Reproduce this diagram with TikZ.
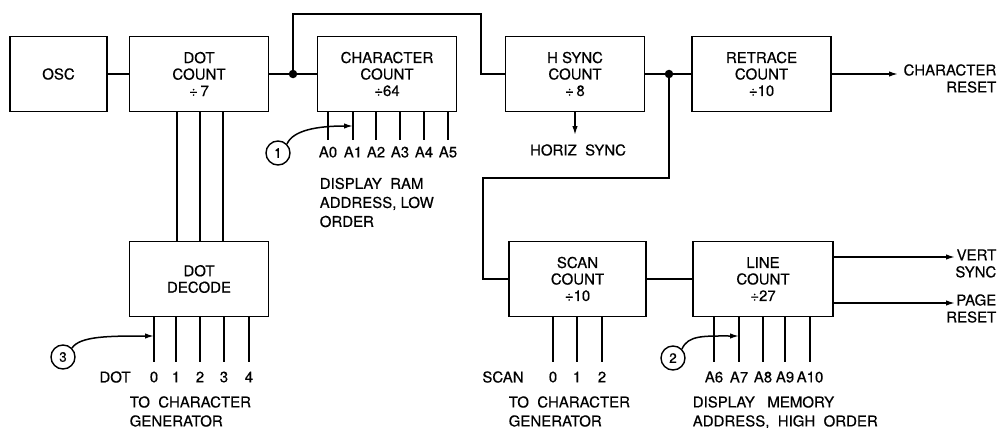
\documentclass[tikz,border=0pt]{standalone}
\usepackage{fontspec}
\setmainfont{TeX Gyre Heros}[FakeBold=0.4]
\usetikzlibrary{arrows.meta, positioning, calc}

\begin{document}
\begin{tikzpicture}[
    x=1pt, y=-1pt,
    >={Latex[length=9pt, width=5.5pt]},
    line width=1.5pt,
    font=\fontsize{15}{16.5}\selectfont,
    block/.style={
        draw=black,
        line width=1.5pt,
        minimum width=139pt,
        minimum height=75pt,
        align=center,
        inner sep=2pt
    },
    pinlabel/.style={
        inner sep=0pt
    },
    note/.style={
        align=left,
        inner sep=0pt,
        anchor=north west,
        font=\fontsize{15}{19}\selectfont
    },
    outlabel/.style={
        align=right,
        inner sep=0pt,
        anchor=east,
        font=\fontsize{15}{17}\selectfont
    },
    marker/.style={
        circle,
        draw=black,
        line width=1.4pt,
        minimum size=24pt,
        inner sep=0pt,
        font=\fontsize{13.5}{13.5}\selectfont
    },
    junction/.style={
        circle,
        fill=black,
        minimum size=8.5pt,
        inner sep=0pt
    }
]

\useasboundingbox (0, 0) rectangle (998, 428);

% Counter blocks
\node[block, minimum width=97pt] (OSC) at (58.5, 74) {OSC};
\node[block] (DC) at (199, 74) {DOT\\COUNT\\÷\,7};
\node[block] (CC) at (387, 74) {CHARACTER\\COUNT\\÷64};
\node[block] (HS) at (575, 74) {H SYNC\\COUNT\\÷\,8};
\node[block] (RC) at (761.5, 74) {RETRACE\\COUNT\\÷10};

\node[block] (DD) at (199, 279) {DOT\\DECODE};
\node[block, minimum width=137pt] (SC) at (577.5, 279) {SCAN\\COUNT\\÷10};
\node[block, minimum width=140pt] (LC) at (763, 279) {LINE\\COUNT\\÷27};

% Junctions
\node[junction] (j1) at (293, 74) {};
\node[junction] (j2) at (669, 74) {};

% Bend points and arrow ends
\coordinate (up) at (481, 14);
\coordinate (dn) at (483, 178);
\coordinate (hz) at (575, 135);
\coordinate (cr) at (898, 74);
\coordinate (vs) at (955, 257);
\coordinate (ps) at (955, 303);

% Main chain
\draw (OSC) -- (DC);
\draw (DC) -- (j1.center) -- (CC);
\draw (j1.center) |- (up) |- (HS.west);
\draw (HS) -- (j2.center) -- (RC);
\draw (j2.center) |- (dn) |- (SC.west);
\draw (SC) -- (LC);

% Outputs
\draw[->] (HS.south) -- (hz);
\draw[->] (RC) -- (cr);
\draw[->] (LC.east |- vs) -- (vs);
\draw[->] (LC.east |- ps) -- (ps);

\node[pinlabel] (hzl) at (578, 150) {HORIZ\ \ SYNC};
\node[outlabel] (crl) at (997, 78.5) {CHARACTER\\RESET};
\node[outlabel] (vsl) at (997, 263.5) {VERT\\SYNC};
\node[outlabel] (psl) at (997, 308.5) {PAGE\\RESET};

% Dot count to dot decode
\foreach \x in {177, 200, 223}
    \draw (DC.south -| \x,0) -- (DD.north -| \x,0);

% Low order address lines
\foreach \x/\pin/\txt in {328/a0/A0, 353/a1/A1, 376/a2/A2, 400/a3/A3, 424/a4/A4, 448/a5/A5} {
    \coordinate (\pin) at (\x, 140);
    \draw (CC.south -| \pin) -- (\pin);
    \node[pinlabel] (l\pin) at (\x, 152) {\txt};
}

% Dot decode outputs
\foreach \x/\pin/\txt in {154/d0/0, 176/d1/1, 200/d2/2, 224/d3/3, 249/d4/4} {
    \coordinate (\pin) at (\x, 362);
    \draw (DD.south -| \pin) -- (\pin);
    \node[pinlabel] (l\pin) at (\x, 377) {\txt};
}

% Scan outputs
\foreach \x/\pin/\txt in {553/s0/0, 577/s1/1, 602/s2/2} {
    \coordinate (\pin) at (\x, 362);
    \draw (SC.south -| \pin) -- (\pin);
    \node[pinlabel] (l\pin) at (\x, 377) {\txt};
}

% High order address lines
\foreach \x/\pin/\txt in {714/m6/A6, 739/m7/A7, 763/m8/A8, 785/m9/A9, 810/m10/A10} {
    \coordinate (\pin) at (\x, 362);
    \draw (LC.south -| \pin) -- (\pin);
    \node[pinlabel] (l\pin) at (\x, 377) {\txt};
}

\node[pinlabel] (dotl) at (115, 377) {DOT};
\node[pinlabel] (scanl) at (503, 377) {SCAN};

% Notes
\node[note] (ramnote) at (319, 177) {DISPLAY\ \ RAM\\ADDRESS,\ LOW\\ORDER};
\node[note] (dotnote) at (129, 395.5) {TO\ \ CHARACTER\\GENERATOR};
\node[note] (scannote) at (508, 395.5) {TO\ \ CHARACTER\\GENERATOR};
\node[note] (memnote) at (692, 395.5) {DISPLAY\ \ \ MEMORY\\ADDRESS,\ \ HIGH\ \ ORDER};

% Numbered markers
\coordinate (in1) at (353, 126);
\coordinate (in2) at (739, 336);
\coordinate (in3) at (154, 336);

\node[marker] (m1) at (278, 153) {1};
\node[marker] (m2) at (673, 358) {2};
\node[marker] (m3) at (63, 357) {3};

\draw[->] (m1.north east) .. controls +(6,-14) and +(-35,0) .. (in1);
\draw[->] (m2.north east) .. controls +(6,-14) and +(-35,0) .. (in2);
\draw[->] (m3.north east) .. controls +(8,-12) and +(-45,0) .. (in3);

\end{tikzpicture}
\end{document}
